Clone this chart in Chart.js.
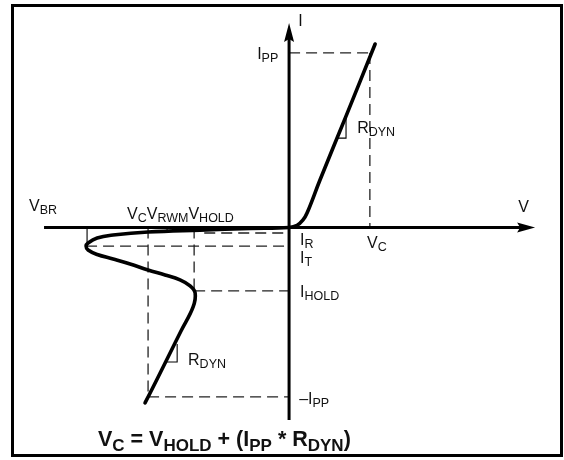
<!DOCTYPE html>
<html>
<head>
<meta charset="utf-8">
<script src="https://cdn.jsdelivr.net/npm/chart.js@4.4.1/dist/chart.umd.min.js"></script>
<style>
  html, body { margin: 0; padding: 0; background: #fff; }
  #wrap { position: relative; width: 564px; height: 460px; }
  #frame {
    position: absolute; left: 11px; top: 4px; width: 552px; height: 453px;
    box-sizing: border-box; border: 3px solid #000; pointer-events: none;
  }
  canvas { display: block; }
</style>
</head>
<body>
<div id="wrap">
  <canvas id="chart" width="564" height="460"></canvas>
  <div id="frame"></div>
</div>
<script>
  'use strict';

  // ------------------------------------------------------------------
  // Data (schematic units: V along x, I along y, origin where axes cross)
  // ------------------------------------------------------------------
  const V_BR = -10, V_C_NEG = -6.98, V_RWM = -6.04, V_HOLD = -4.7, V_C = 4.0;
  const I_PP = 10.15, I_R = -0.32, I_T = -1.08, I_HOLD = -3.69, I_PP_NEG = -9.85;

  // I-V curve of the device, traced from top right round the snapback
  const curveV = [4.26, 2.82, 1.53, 0.89, 0.69, 0.40, 0, -1.93, -4.41, -6.98, -8.71, -9.50, -9.95, -10.05,
                  -9.95, -9.50, -8.71, -7.87, -6.98, -6.14, -5.40, -4.90, -4.65, -4.75, -5.35, -5.94, -6.53, -7.13];
  const curveI = [10.67, 6.48, 2.76, 0.84, 0.44, 0.13, 0, -0.06, -0.15, -0.26, -0.44, -0.61, -0.90, -1.08,
                  -1.31, -1.57, -1.83, -2.12, -2.47, -2.76, -3.05, -3.40, -3.81, -4.62, -6.02, -7.41, -8.81, -10.20];

  // axis extents [start, arrow tip]
  const xAxisRange = [-12.13, 12.18];
  const yAxisRange = [-11.19, 11.89];

  // dashed guide lines [[v1, i1], [v2, i2]]
  const dashedLines = [
    [[0, I_PP], [V_C, I_PP]],
    [[V_C, I_PP], [V_C, 0]],
    [[-4.2, I_R], [0, I_R]],
    [[-10.05, I_T], [0, I_T]],
    [[V_HOLD, I_HOLD], [0, I_HOLD]],
    [[V_C_NEG, I_PP_NEG], [0, I_PP_NEG]],
    [[V_C_NEG, 0], [V_C_NEG, I_PP_NEG]],
    [[V_HOLD, 0], [V_HOLD, I_HOLD]],
  ];

  // thin solid marks: V_BR / V_RWM ticks and the two slope (R_DYN) markers
  const solidLines = [
    [[V_BR, 0], [V_BR, I_T]],
    [[V_RWM, 0], [V_RWM, -0.2]],
    [[2.82, 6.48], [2.82, 5.20], [2.38, 5.20]],
    [[-5.54, -6.77], [-5.54, -7.82], [-6.04, -7.82]],
  ];

  // text labels: anchor [v, i] (left, baseline), parts [text, isSubscript]
  const labels = [
    { at: [0.45, 11.74], parts: [['I', 0]] },
    { at: [11.34, 0.90], parts: [['V', 0]] },
    { at: [-1.58, 9.80], parts: [['I', 0], ['PP', 1]] },
    { at: [3.37, 5.49], parts: [['R', 0], ['DYN', 1]] },
    { at: [3.86, -1.19], parts: [['V', 0], ['C', 1]] },
    { at: [0.54, -1.02], parts: [['I', 0], ['R', 1]] },
    { at: [0.54, -2.06], parts: [['I', 0], ['T', 1]] },
    { at: [0.54, -4.04], parts: [['I', 0], ['HOLD', 1]] },
    { at: [0.50, -10.26], parts: [['\u2013I', 0], ['PP', 1]] },
    { at: [-5.0, -7.99], parts: [['R', 0], ['DYN', 1]] },
    { at: [-12.87, 0.96], parts: [['V', 0], ['BR', 1]] },
    { at: [-8.02, 0.49], parts: [['V', 0], ['C', 1], ['V', 0], ['RWM', 1], ['V', 0], ['HOLD', 1]] },
    { at: [-9.46, -12.70], bold: true,
      parts: [['V', 0], ['C', 1], [' = V', 0], ['HOLD', 1], [' + (I', 0], ['PP', 1], [' * R', 0], ['DYN', 1], [')', 0]] },
  ];

  // ------------------------------------------------------------------
  // Datasets
  // ------------------------------------------------------------------
  const toPts = seg => seg.map(([x, y]) => ({ x, y }));
  const lineDs = (data, extra) => Object.assign({
    data, showLine: true, borderColor: '#000', pointRadius: 0, fill: false,
  }, extra);

  const datasets = [
    lineDs(curveV.map((v, i) => ({ x: v, y: curveI[i] })), { borderWidth: 3.6, tension: 0.4, borderCapStyle: 'round' }),
    lineDs([{ x: xAxisRange[0], y: 0 }, { x: xAxisRange[1] - 0.5, y: 0 }], { borderWidth: 3 }),
    lineDs([{ x: 0, y: yAxisRange[0] }, { x: 0, y: yAxisRange[1] - 0.6 }], { borderWidth: 3 }),
    ...solidLines.map(s => lineDs(toPts(s), { borderWidth: 1.1 })),
    ...dashedLines.map(s => lineDs(toPts(s), { borderWidth: 1.3, borderDash: [11, 6], borderColor: '#222' })),
  ];

  // ------------------------------------------------------------------
  // Overlay: arrow heads and labels with subscripts
  // ------------------------------------------------------------------
  const FONT = '"Liberation Sans", Arial, Helvetica, sans-serif';

  function drawRich(ctx, parts, x, y, bold) {
    const main = bold ? 21.5 : 16;
    const sub = bold ? 17 : 12.5;
    const drop = bold ? 5 : 3;
    let cx = x;
    parts.forEach(([t, s]) => {
      ctx.font = `${bold ? 'bold ' : ''}${s ? sub : main}px ${FONT}`;
      ctx.fillText(t, cx, s ? y + drop : y);
      cx += ctx.measureText(t).width;
    });
  }

  const overlay = {
    id: 'overlay',
    afterDatasetsDraw(chart) {
      const { ctx, scales: { x, y } } = chart;
      ctx.save();
      ctx.fillStyle = '#000';

      // x arrow
      const tx = x.getPixelForValue(xAxisRange[1]), ty = y.getPixelForValue(0);
      ctx.beginPath();
      ctx.moveTo(tx, ty);
      ctx.lineTo(tx - 18, ty - 5);
      ctx.lineTo(tx - 15, ty);
      ctx.lineTo(tx - 18, ty + 5);
      ctx.closePath();
      ctx.fill();

      // y arrow
      const ux = x.getPixelForValue(0), uy = y.getPixelForValue(yAxisRange[1]);
      ctx.beginPath();
      ctx.moveTo(ux, uy);
      ctx.lineTo(ux - 5, uy + 19);
      ctx.lineTo(ux, uy + 16);
      ctx.lineTo(ux + 5, uy + 19);
      ctx.closePath();
      ctx.fill();

      ctx.fillStyle = '#111';
      ctx.textBaseline = 'alphabetic';
      ctx.textAlign = 'left';
      labels.forEach(l => {
        drawRich(ctx, l.parts, x.getPixelForValue(l.at[0]), y.getPixelForValue(l.at[1]), l.bold);
      });
      ctx.restore();
    },
  };

  new Chart(document.getElementById('chart').getContext('2d'), {
    type: 'scatter',
    data: { datasets },
    options: {
      responsive: false,
      animation: false,
      layout: { padding: 0 },
      plugins: { legend: { display: false }, tooltip: { enabled: false } },
      scales: {
        x: { type: 'linear', display: false, min: -14.31, max: 13.61 },
        y: { type: 'linear', display: false, min: -13.52, max: 13.23 },
      },
    },
    plugins: [overlay],
  });
</script>
</body>
</html>
